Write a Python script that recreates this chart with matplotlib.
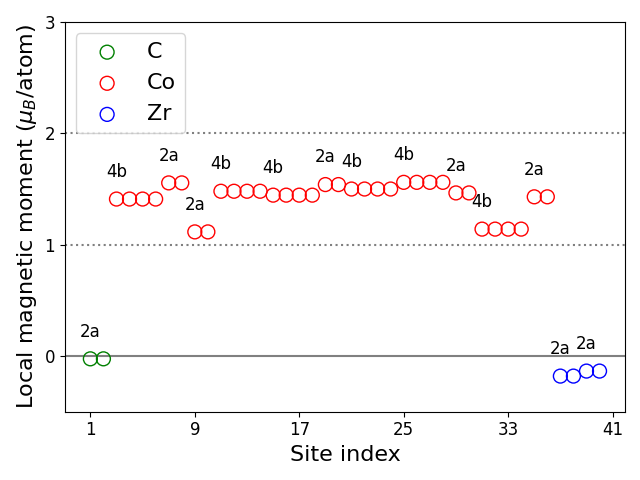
import numpy as np
import matplotlib
matplotlib.use("Agg")
import matplotlib.pyplot as plt

# site indices and local moments per element
c_sites = [1, 2]
c_moments = [-0.025, -0.025]

co_sites = list(range(3, 37))
co_moments = [1.41, 1.41, 1.41, 1.41,
              1.555, 1.555,
              1.115, 1.115,
              1.48, 1.48, 1.48, 1.48,
              1.445, 1.445, 1.445, 1.445,
              1.54, 1.54,
              1.50, 1.50, 1.50, 1.50,
              1.56, 1.56, 1.56, 1.56,
              1.465, 1.465,
              1.14, 1.14, 1.14, 1.14,
              1.43, 1.43]

zr_sites = [37, 38, 39, 40]
zr_moments = [-0.18, -0.18, -0.135, -0.135]

# Wyckoff labels at the first site of each group
label_sites = [1, 3, 7, 9, 11, 15, 19, 21, 25, 29, 31, 35, 37, 39]
label_texts = ['2a', '4b', '2a', '2a', '4b', '4b', '2a', '4b', '4b', '2a', '4b', '2a', '2a', '2a']

fig, ax = plt.subplots(figsize=(6.4, 4.8), dpi=100)

ax.axhline(0, color='gray', linestyle='-', zorder=0)
ax.axhline(1, color='gray', linestyle=':', zorder=0)
ax.axhline(2, color='gray', linestyle=':', zorder=0)

ax.scatter(c_sites, c_moments, s=100, facecolors='none', edgecolors='green', label='C')
ax.scatter(co_sites, co_moments, s=100, facecolors='none', edgecolors='red', label='Co')
ax.scatter(zr_sites, zr_moments, s=100, facecolors='none', edgecolors='blue', label='Zr')

all_sites = c_sites + co_sites + zr_sites
all_moments = c_moments + co_moments + zr_moments
lookup = dict(zip(all_sites, all_moments))
for site, txt in zip(label_sites, label_texts):
    ax.text(site, lookup[site] + 0.2, txt, ha='center', fontsize=12)

ax.set_ylim(-0.5, 3)
ax.set_yticks([0, 1, 2, 3])
ax.set_xticks([1, 9, 17, 25, 33, 41])
ax.tick_params(labelsize=12)
ax.set_xlabel('Site index', fontsize=16)
ax.set_ylabel(r'Local magnetic moment ($\mu_B$/atom)', fontsize=16)
ax.legend(loc='upper left', fontsize=16)

fig.tight_layout()
fig.savefig('out.png')
